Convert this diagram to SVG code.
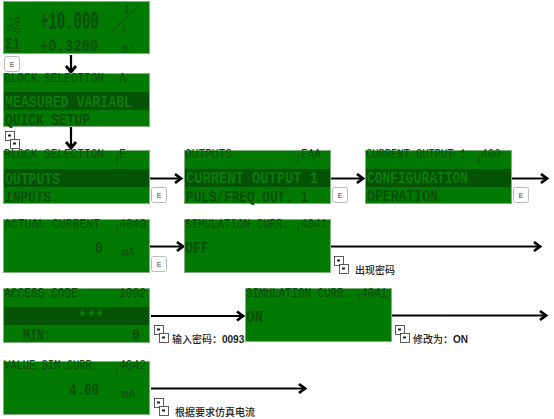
<svg xmlns="http://www.w3.org/2000/svg" width="554" height="419" viewBox="0 0 554 419">
<style>
.lcd{fill:#027a02;stroke:#7fae7f;stroke-width:1}
.band{fill:#045204}
.t{font-family:"Liberation Mono","DejaVu Sans Mono",monospace;font-size:12px;fill:#0a4f0a}
.b{font-family:"Liberation Mono","DejaVu Sans Mono",monospace;font-size:16px;font-weight:bold;fill:#0a4f0a}
.big{font-size:14px}
.on{fill:#0a7d0a}
.cap{font-family:"Noto Sans CJK SC","Liberation Sans",sans-serif;font-size:10px;fill:#222;font-weight:500}
.line{fill:none;stroke:#000;stroke-width:2.2}
.head{fill:none;stroke:#000;stroke-width:2.8}
.key{fill:#fff;stroke:#b9b9b9;stroke-width:1}
.mk{font-family:"Liberation Sans",sans-serif;font-size:7px;fill:#444}
.kk{fill:#fff;stroke:#333;stroke-width:.8}
.tick{stroke:#0a4f0a;fill:none}
</style>
<defs>
<g id="e"><rect class="key" x="0.5" y="0.5" width="15" height="15" rx="2"/><text class="mk" x="8" y="11" text-anchor="middle">E</text></g>
<g id="pm"><rect class="kk" x="0.5" y="0.5" width="9" height="9"/><rect x="3" y="3.500" width="3" height="2" fill="#222"/><rect class="kk" x="5.500" y="8.500" width="9" height="9"/><rect x="8" y="11.500" width="3" height="2" fill="#222"/></g>
</defs>
<g id="connectors">
<path class="line" d="M71 55V71M71 127V147M149 178.500H181M331 178.500H363M512 178.500H547M149 246.500H183M331 246.500H540M151 316H243M392 315.500H546M151 388.500H305"/>
<path class="head" d="M66 66L71 72L76 66M66 142L71 148L76 142M175 174L181 178.500L175 183M357 174L363 178.500L357 183M541 174L547 178.500L541 183M177 242L183 246.500L177 251M534 242L540 246.500L534 251M237 311.500L243 316L237 320.500M540 311L546 315.500L540 320M299 384L305 388.500L299 393"/>
</g>
<g id="n1"><rect class="lcd" x="3.500" y="1.500" width="146" height="52"/>
<text class="b big" transform="translate(40 29) scale(1 1.850)" x="0" y="0">+10.000</text>
<text class="t" x="124" y="13" textLength="6" lengthAdjust="spacingAndGlyphs">1</text><path class="tick" d="M112 31L138 6"/><text class="t" x="121" y="32" textLength="6" lengthAdjust="spacingAndGlyphs">s</text>
<text class="t" x="8" y="26" textLength="12" lengthAdjust="spacingAndGlyphs">10</text><path class="tick" d="M7 28q3-3 7 0t7 0M7 31q3-3 7 0t7 0M7 51H20"/>
<text class="b" x="5" y="49" textLength="15" lengthAdjust="spacingAndGlyphs">Σ1</text>
<text class="b" x="40" y="51" textLength="58" lengthAdjust="spacingAndGlyphs">+0.3200</text>
<text class="t" x="122" y="53" textLength="12" lengthAdjust="spacingAndGlyphs">m³</text></g>
<g id="n2"><rect class="lcd" x="3.500" y="73.500" width="146" height="53"/><rect class="band" x="4" y="92" width="145" height="18"/>
<text class="t" x="4" y="82" textLength="100" lengthAdjust="spacingAndGlyphs">BLOCK SELECTION</text><text class="t" x="119" y="82" textLength="7" lengthAdjust="spacingAndGlyphs">A</text>
<text class="b on" x="5" y="107" textLength="127" lengthAdjust="spacingAndGlyphs">MEASURED VARIABL</text>
<text class="b" x="5" y="125" textLength="85" lengthAdjust="spacingAndGlyphs">QUICK SETUP</text></g>
<g id="n3"><rect class="lcd" x="3.500" y="150.500" width="146" height="53"/><rect class="band" x="4" y="169" width="145" height="18"/>
<text class="t" x="4" y="158" textLength="100" lengthAdjust="spacingAndGlyphs">BLOCK SELECTION</text><text class="t" x="119" y="158" textLength="7" lengthAdjust="spacingAndGlyphs">E</text><path class="tick" d="M117 155V163"/>
<text class="b on" x="5" y="184" textLength="55" lengthAdjust="spacingAndGlyphs">OUTPUTS</text>
<text class="b" x="5" y="202" textLength="46" lengthAdjust="spacingAndGlyphs">INPUTS</text></g>
<g id="n4"><rect class="lcd" x="184.500" y="150.500" width="146" height="53"/><rect class="band" x="185" y="169" width="145" height="18"/>
<text class="t" x="185" y="158" textLength="47" lengthAdjust="spacingAndGlyphs">OUTPUTS</text><text class="t" x="301" y="158" textLength="20" lengthAdjust="spacingAndGlyphs">EAA</text><path class="tick" d="M298 155V163"/>
<text class="b on" x="186" y="183" textLength="132" lengthAdjust="spacingAndGlyphs">CURRENT OUTPUT 1</text>
<text class="b" x="186" y="202" textLength="122" lengthAdjust="spacingAndGlyphs">PULS/FREQ.OUT. 1</text></g>
<g id="n5"><rect class="lcd" x="365.500" y="150.500" width="146" height="53"/><rect class="band" x="366" y="169" width="145" height="18"/>
<text class="t" x="366" y="158" textLength="100" lengthAdjust="spacingAndGlyphs">CURRENT OUTPUT 1</text><text class="t" x="481" y="158" textLength="20" lengthAdjust="spacingAndGlyphs">400</text><path class="tick" d="M479 155V163"/>
<text class="b on" x="367" y="183" textLength="101" lengthAdjust="spacingAndGlyphs">CONFIGURATION</text>
<text class="b" x="367" y="201" textLength="71" lengthAdjust="spacingAndGlyphs">OPERATION</text></g>
<g id="n6"><rect class="lcd" x="3.500" y="219.500" width="146" height="53"/>
<text class="t" x="4" y="228" textLength="96" lengthAdjust="spacingAndGlyphs">ACTUAL CURRENT</text><text class="t" x="119" y="228" textLength="27" lengthAdjust="spacingAndGlyphs">4040</text><path class="tick" d="M117 225V233"/>
<text class="b" x="95" y="253" textLength="8" lengthAdjust="spacingAndGlyphs">0</text><text class="t" x="121" y="256" textLength="14" lengthAdjust="spacingAndGlyphs">mA</text></g>
<g id="n7"><rect class="lcd" x="184.500" y="219.500" width="146" height="53"/>
<text class="t" x="185" y="228" textLength="104" lengthAdjust="spacingAndGlyphs">SIMULATION CURR.</text><text class="t" x="301" y="228" textLength="26" lengthAdjust="spacingAndGlyphs">4041</text><path class="tick" d="M298 225V233"/>
<text class="b" x="185" y="253" textLength="24" lengthAdjust="spacingAndGlyphs">OFF</text></g>
<g id="n8"><rect class="lcd" x="3.500" y="288.500" width="146" height="54"/><rect class="band" x="4" y="307" width="145" height="18"/>
<text class="t" x="4" y="297" textLength="74" lengthAdjust="spacingAndGlyphs">ACCESS CODE</text><text class="t" x="119" y="297" textLength="27" lengthAdjust="spacingAndGlyphs">1002</text>
<text class="b on" x="78" y="322" textLength="26" lengthAdjust="spacingAndGlyphs">***</text>
<text class="b" x="23" y="340" textLength="28" lengthAdjust="spacingAndGlyphs">MIN:</text><text class="b" x="132" y="340" textLength="8" lengthAdjust="spacingAndGlyphs">0</text></g>
<g id="n9"><rect class="lcd" x="245.500" y="288.500" width="146" height="53"/>
<text class="t" x="246" y="297" textLength="104" lengthAdjust="spacingAndGlyphs">SIMULATION CURR.</text><text class="t" x="361" y="297" textLength="26" lengthAdjust="spacingAndGlyphs">4041</text><path class="tick" d="M359 294V301"/>
<text class="b" x="246" y="322" textLength="17" lengthAdjust="spacingAndGlyphs">ON</text></g>
<g id="n10"><rect class="lcd" x="3.500" y="361.500" width="146" height="53"/>
<text class="t" x="4" y="369" textLength="94" lengthAdjust="spacingAndGlyphs">VALUE SIM.CURR.</text><text class="t" x="119" y="369" textLength="27" lengthAdjust="spacingAndGlyphs">4042</text><path class="tick" d="M117 367V374"/>
<text class="b" x="69" y="395" textLength="30" lengthAdjust="spacingAndGlyphs">4.00</text><text class="t" x="121" y="398" textLength="14" lengthAdjust="spacingAndGlyphs">mA</text></g>
<g id="keys">
<use href="#e" x="4" y="56"/><use href="#pm" x="5" y="131"/><use href="#e" x="151" y="187"/><use href="#e" x="332" y="187"/><use href="#e" x="513" y="187"/><use href="#e" x="151" y="256"/>
<use href="#pm" x="334" y="256"/><use href="#pm" x="154" y="325"/><use href="#pm" x="395" y="325"/><use href="#pm" x="154" y="398"/>
</g>
<g id="captions">
<text class="cap" x="355" y="274">出现密码</text>
<text class="cap" x="172" y="343">输入密码：<tspan font-weight="bold" font-family="Liberation Sans">0093</tspan></text>
<text class="cap" x="413" y="343">修改为：<tspan font-weight="bold" font-family="Liberation Sans">ON</tspan></text>
<text class="cap" x="175" y="416">根据要求仿真电流</text>
</g>
</svg>
